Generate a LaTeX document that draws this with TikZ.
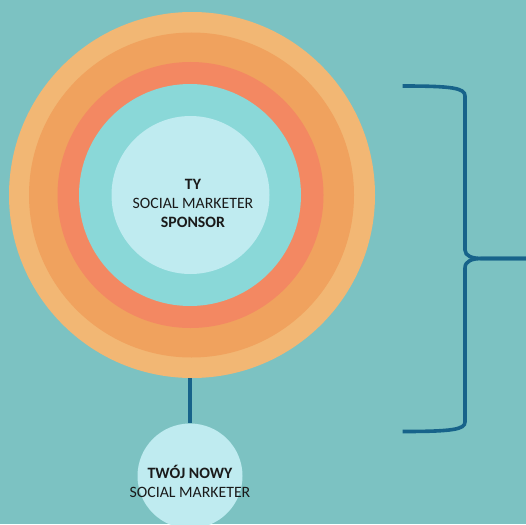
\documentclass[tikz,border=0pt]{standalone}
\usepackage{fontspec}
\setmainfont{Carlito}
\definecolor{bg}{HTML}{7CC2C2}
\definecolor{ringA}{HTML}{F2B774}
\definecolor{ringB}{HTML}{F0A25E}
\definecolor{ringC}{HTML}{F38862}
\definecolor{ringD}{HTML}{8AD8D8}
\definecolor{core}{HTML}{BFEBF0}
\definecolor{linecol}{HTML}{17638A}
\definecolor{txt}{HTML}{1A1A1A}
\begin{document}
\begin{tikzpicture}[x=1pt,y=-1pt,
  ring/.style={circle,inner sep=0pt,draw=none},
  lbl/.style={font=\fontsize{15.8}{19}\selectfont,text=txt,align=center},
  conn/.style={draw=linecol,line width=3.8pt},
  bracestyle/.style={draw=linecol,line width=3.6pt}]
\fill[bg] (0,0) rectangle (526,524);
\useasboundingbox (0,0) rectangle (526,524);
\clip (0,0) rectangle (526,524);
% concentric rings
\node[ring,fill=ringA,minimum size=366pt] (outer) at (192,195) {};
\node[ring,fill=ringB,minimum size=325pt] (second) at (191.5,195) {};
\node[ring,fill=ringC,minimum size=266pt] (third) at (190.5,195) {};
\node[ring,fill=ringD,minimum size=222pt] (fourth) at (190,195) {};
\node[ring,fill=core,minimum size=158pt] (inner) at (190.5,195) {};
\node[lbl] (innertext) at (193,203.5) {\textbf{TY}\\SOCIAL MARKETER\\\textbf{SPONSOR}};
% new social marketer
\node[ring,fill=core,minimum size=105pt] (newsm) at (190,476) {};
\node[lbl] (newtext) at (190,481) {\textbf{TWÓJ NOWY}\\SOCIAL MARKETER};
\draw[conn] (outer.south -| newsm.north) -- (newsm.north);
% brace
\coordinate (btop) at (402.7,86);
\coordinate (bbot) at (402.7,431.5);
\coordinate (btip) at (526,258.5);
\draw[bracestyle] (btop) .. controls (452,86) and (465,88) .. (465,96)
  -- (465,250) .. controls (465,256) and (472,258.5) .. (482,258.5) -- (btip);
\draw[bracestyle] (btip) -- (482,258.5) .. controls (472,258.5) and (465,261) .. (465,268)
  -- (465,422) .. controls (465,429.5) and (452,431.5) .. (bbot);
\end{tikzpicture}
\end{document}
